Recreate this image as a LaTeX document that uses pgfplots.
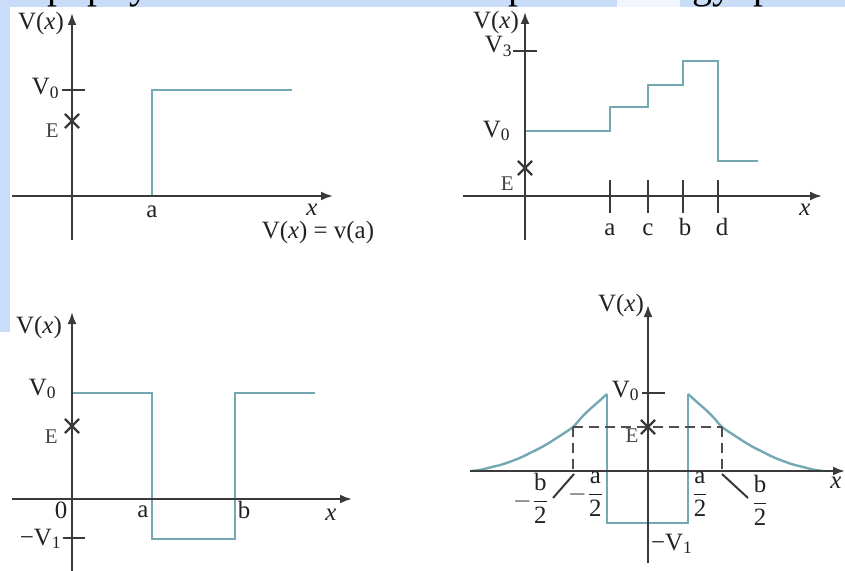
\documentclass[border=0pt]{standalone}
\usepackage{pgfplots}
\pgfplotsset{compat=1.18}
\usepackage{amsmath}
\usepackage{fontspec}
\setmainfont{Liberation Serif}
\usetikzlibrary{arrows.meta}
\definecolor{bgblue}{HTML}{C9DDF9}
\definecolor{curve}{HTML}{74A8B3}
\definecolor{axisc}{HTML}{3A3A3A}
\definecolor{txt}{HTML}{222222}

% one px of the reference = 0.5bp
\tikzset{
  axl/.style={axisc, line width=1.1bp, -{Latex[length=6bp,width=4.5bp]}},
  tk/.style={axisc, line width=1bp},
  pot/.style={curve, line width=1.2bp},
  lbl/.style={font=\fontsize{12.5}{14}\selectfont, inner sep=0pt, text=txt},
  lbls/.style={font=\fontsize{10.5}{12}\selectfont, inner sep=0pt, text=txt!85},
  cross/.style={only marks, mark=x, mark size=5bp, axisc, mark options={line width=1.2bp}},
  dsh/.style={axisc!90, line width=1.4bp, dash pattern=on 5bp off 3bp},
}

\begin{document}
\begin{tikzpicture}
\begin{axis}[
  name=ax, hide axis, scale only axis,
  width=422.5bp, height=285.5bp,
  xmin=0, xmax=845, ymin=0, ymax=571, y dir=reverse,
  clip=false,
]
% background
\addplot[fill=white, draw=none] coordinates {(0,0) (845,0) (845,571) (0,571)};
\addplot[fill=bgblue, draw=none] coordinates {(0,0) (845,0) (845,7) (0,7)};
\addplot[fill=bgblue, draw=none] coordinates {(0,0) (10,0) (10,332) (0,332)};
\addplot[fill=bgblue!25, draw=none] coordinates {(617,0) (680,0) (680,7) (617,7)};

% heading above the pictures, cut off by the top edge as in the reference
\node[anchor=base west, font=\fontsize{20}{24}\selectfont, inner sep=0pt] at (axis cs:47,-1.5) {p};
\node[anchor=base west, font=\fontsize{20}{24}\selectfont, inner sep=0pt] at (axis cs:87,-1.5) {p};
\node[anchor=base west, font=\fontsize{20}{24}\selectfont, inner sep=0pt] at (axis cs:129,-1.5) {y};
\node[anchor=base west, font=\fontsize{20}{24}\selectfont, inner sep=0pt] at (axis cs:508,-1.5) {p};
\node[anchor=base west, font=\fontsize{20}{24}\selectfont, inner sep=0pt] at (axis cs:692,-1.5) {gy};
\node[anchor=base west, font=\fontsize{20}{24}\selectfont, inner sep=0pt] at (axis cs:753,-1.5) {p};

% ---------- panel 1: step ----------
\addplot[pot] coordinates {(152,196) (152,90) (292,90)};
\addplot[axl] coordinates {(12,196) (333,196)};
\addplot[axl] coordinates {(72,240) (72,13)};
\addplot[tk] coordinates {(62,90) (85,90)};
\addplot[cross] coordinates {(72,121)};
\node[lbl, anchor=base] at (axis cs:41,30) {V(\textit{x})};
\node[lbl, anchor=base east] at (axis cs:60,95) {V\textsubscript{0}};
\node[lbls, anchor=base east] at (axis cs:59,137) {E};
\node[lbl, anchor=base] at (axis cs:152,217) {a};
\node[lbl, anchor=base] at (axis cs:312,215) {\textit{x}};
\node[lbl, anchor=base] at (axis cs:318,238) {V(\textit{x}) = v(a)};

% ---------- panel 2: staircase ----------
\addplot[pot] coordinates {(525,131) (610,131) (610,107) (648,107) (648,85)
  (683,85) (683,61) (718,61) (718,161) (758,161)};
\addplot[axl] coordinates {(463,196) (822,196)};
\addplot[axl] coordinates {(525,240) (525,12)};
\addplot[tk] coordinates {(513,51) (537,51)};
\addplot[tk] coordinates {(610,180) (610,213)};
\addplot[tk] coordinates {(648,180) (648,213)};
\addplot[tk] coordinates {(683,180) (683,213)};
\addplot[tk] coordinates {(718,180) (718,213)};
\addplot[cross] coordinates {(525,168)};
\node[lbl, anchor=base] at (axis cs:496,29) {V(\textit{x})};
\node[lbl, anchor=base east] at (axis cs:513,53) {V\textsubscript{3}};
\node[lbl, anchor=base east] at (axis cs:511,137) {V\textsubscript{0}};
\node[lbls, anchor=base east] at (axis cs:514,190) {E};
\node[lbl, anchor=base] at (axis cs:610,235) {a};
\node[lbl, anchor=base] at (axis cs:648,235) {c};
\node[lbl, anchor=base] at (axis cs:685,235) {b};
\node[lbl, anchor=base] at (axis cs:722,235) {d};
\node[lbl, anchor=base] at (axis cs:805,215) {\textit{x}};

% ---------- panel 3: square well ----------
\addplot[pot] coordinates {(72,393) (152,393) (152,539) (235,539) (235,393) (315,393)};
\addplot[axl] coordinates {(12,499) (352,499)};
\addplot[axl] coordinates {(72,571) (72,312)};
\addplot[tk] coordinates {(63,538) (85,538)};
\addplot[cross] coordinates {(72,426)};
\node[lbl, anchor=base] at (axis cs:39,333) {V(\textit{x})};
\node[lbl, anchor=base east] at (axis cs:57,395) {V\textsubscript{0}};
\node[lbls, anchor=base east] at (axis cs:58,443) {E};
\node[lbl, anchor=base] at (axis cs:61,518) {0};
\node[lbl, anchor=base] at (axis cs:143,517) {a};
\node[lbl, anchor=base] at (axis cs:244,518) {b};
\node[lbl, anchor=base] at (axis cs:331,520) {\textit{x}};
\node[lbl, anchor=base east] at (axis cs:62,545) {−V\textsubscript{1}};

% ---------- panel 4: well with exponential walls ----------
\addplot[pot, smooth] coordinates {(472,471) (482,469.5) (492,467) (502,464.5)
  (512,461) (522,457) (532,452) (542,447) (552,441) (562,434.5) (573,427)
  (581,418) (589,410) (597,403) (607,394)};
\addplot[pot] coordinates {(607,394) (607,523) (688,523) (688,394)};
\addplot[pot, smooth] coordinates {(688,394) (698,403) (706,410) (714,418)
  (722,427) (733,434.5) (743,441) (753,447) (763,452) (773,457) (783,461)
  (793,464.5) (803,467) (813,469.5) (823,471)};
\addplot[dsh] coordinates {(573,427) (722,427)};
\addplot[dsh] coordinates {(573,427) (573,471)};
\addplot[dsh] coordinates {(722,427) (722,471)};
\addplot[axl] coordinates {(470,471) (845,471)};
\addplot[axl] coordinates {(648,563) (648,305)};
\addplot[tk] coordinates {(642,393) (665,393)};
\addplot[tk] coordinates {(553,498) (574,474)};
\addplot[tk] coordinates {(722,474) (748,498)};
\addplot[cross] coordinates {(648,427)};
\node[lbl, anchor=base] at (axis cs:621,311) {V(\textit{x})};
\node[lbl, anchor=base east] at (axis cs:640,397) {V\textsubscript{0}};
\node[lbls, anchor=base] at (axis cs:632,442) {E};
\node[lbl, anchor=base] at (axis cs:672,550) {−V\textsubscript{1}};
\node[lbl, anchor=base] at (axis cs:836,488) {\textit{x}};
\node[lbl, anchor=base] at (axis cs:531,507) {$-\dfrac{\text{b}}{\text{2}}$};
\node[lbl, anchor=base] at (axis cs:586,500) {$-\dfrac{\text{a}}{\text{2}}$};
\node[lbl, anchor=base] at (axis cs:700,500) {$\dfrac{\text{a}}{\text{2}}$};
\node[lbl, anchor=base] at (axis cs:760,509) {$\dfrac{\text{b}}{\text{2}}$};
\end{axis}
\pgfresetboundingbox
\path[use as bounding box] (ax.south west) rectangle (ax.north east);
\end{tikzpicture}
\end{document}
